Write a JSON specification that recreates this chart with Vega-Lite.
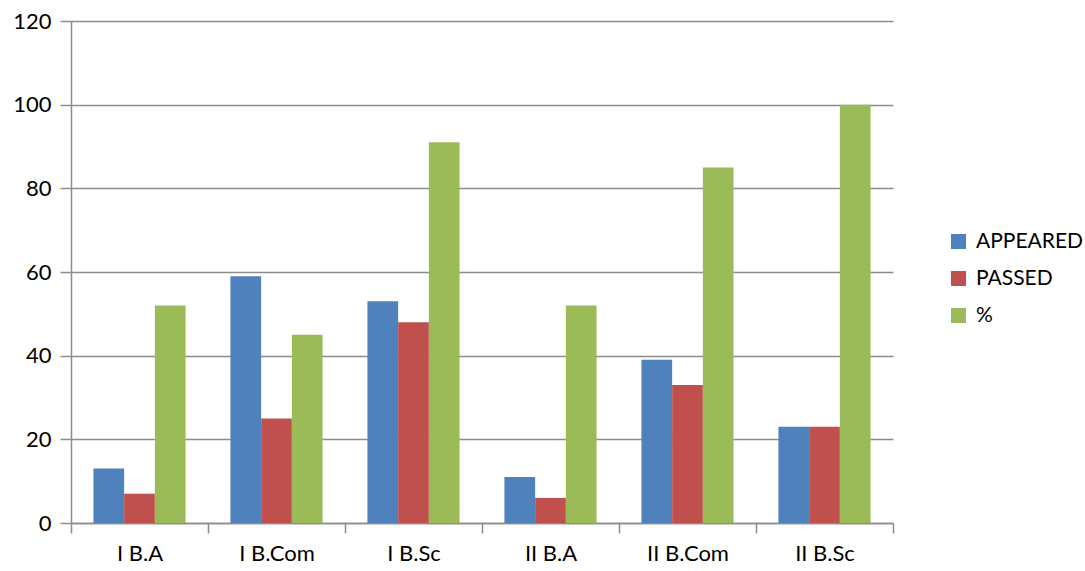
{
  "$schema": "https://vega.github.io/schema/vega-lite/v6.json",
  "autosize": "none",
  "width": 822,
  "height": 502,
  "padding": {"left": 71, "top": 21, "right": 192, "bottom": 48},
  "background": "white",
  "config": {"view": {"stroke": null}, "font": "Lato"},
  "data": {
    "values": [
      {"cls": "I B.A", "series": "APPEARED", "value": 13},
      {"cls": "I B.A", "series": "PASSED", "value": 7},
      {"cls": "I B.A", "series": "%", "value": 52},
      {"cls": "I B.Com", "series": "APPEARED", "value": 59},
      {"cls": "I B.Com", "series": "PASSED", "value": 25},
      {"cls": "I B.Com", "series": "%", "value": 45},
      {"cls": "I B.Sc", "series": "APPEARED", "value": 53},
      {"cls": "I B.Sc", "series": "PASSED", "value": 48},
      {"cls": "I B.Sc", "series": "%", "value": 91},
      {"cls": "II B.A", "series": "APPEARED", "value": 11},
      {"cls": "II B.A", "series": "PASSED", "value": 6},
      {"cls": "II B.A", "series": "%", "value": 52},
      {"cls": "II B.Com", "series": "APPEARED", "value": 39},
      {"cls": "II B.Com", "series": "PASSED", "value": 33},
      {"cls": "II B.Com", "series": "%", "value": 85},
      {"cls": "II B.Sc", "series": "APPEARED", "value": 23},
      {"cls": "II B.Sc", "series": "PASSED", "value": 23},
      {"cls": "II B.Sc", "series": "%", "value": 100}
    ]
  },
  "mark": {"type": "bar"},
  "encoding": {
    "x": {
      "field": "cls",
      "type": "nominal",
      "sort": null,
      "scale": {"paddingInner": 0, "paddingOuter": 0},
      "axis": {
        "title": null,
        "labelAngle": 0,
        "tickBand": "extent",
        "domainColor": "#8c8c8c",
        "domainWidth": 1.5,
        "tickColor": "#8c8c8c",
        "tickWidth": 1.5,
        "tickSize": 10,
        "labelFontSize": 22,
        "labelColor": "#000000",
        "labelPadding": 10
      }
    },
    "xOffset": {
      "field": "series",
      "type": "nominal",
      "sort": ["APPEARED", "PASSED", "%"],
      "scale": {"paddingInner": 0, "paddingOuter": 0.73}
    },
    "y": {
      "field": "value",
      "type": "quantitative",
      "scale": {"domain": [0, 120], "nice": false},
      "axis": {
        "title": null,
        "values": [0, 20, 40, 60, 80, 100, 120],
        "grid": true,
        "gridColor": "#8c8c8c",
        "gridWidth": 1.5,
        "domainColor": "#8c8c8c",
        "domainWidth": 1.5,
        "tickColor": "#8c8c8c",
        "tickWidth": 1.5,
        "tickSize": 11,
        "labelFontSize": 22,
        "labelColor": "#000000",
        "labelPadding": 9
      }
    },
    "color": {
      "field": "series",
      "type": "nominal",
      "sort": ["APPEARED", "PASSED", "%"],
      "scale": {"domain": ["APPEARED", "PASSED", "%"], "range": ["#4F81BD", "#C0504D", "#9BBB59"]},
      "legend": {
        "title": null,
        "orient": "none",
        "legendX": 877,
        "legendY": 210,
        "symbolType": "square",
        "symbolSize": 225,
        "symbolStrokeWidth": 0,
        "labelFontSize": 21,
        "labelColor": "#000000",
        "rowPadding": 15,
        "labelOffset": 7
      }
    }
  }
}
